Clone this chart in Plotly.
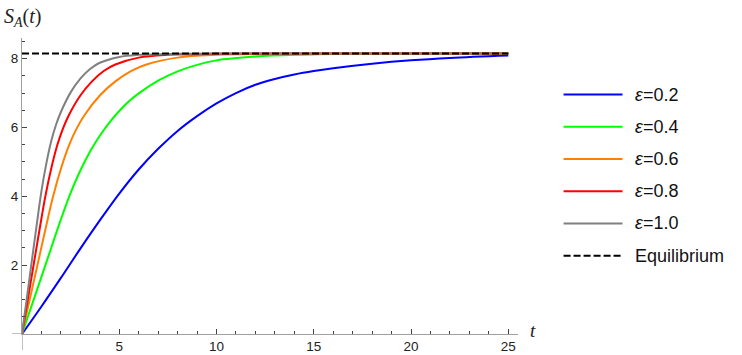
import plotly.graph_objects as go

# ---------------- data ----------------
t_blue = [0, 1, 2, 3, 4, 5, 6, 7, 8, 9, 10, 11, 12, 13, 14, 15, 16, 18, 20, 22, 25]
s_blue = [0, 0.80, 1.63, 2.48, 3.30, 4.08, 4.78, 5.38, 5.90, 6.33, 6.70, 7.00, 7.24, 7.41, 7.54, 7.64, 7.72, 7.85, 7.95, 8.02, 8.09]

t_green = [0, 0.5, 1, 1.5, 2, 2.5, 3, 3.5, 4, 4.5, 5, 5.5, 6, 7, 8, 9, 10, 12, 14, 17, 20, 25]
s_green = [0, 0.83, 1.66, 2.50, 3.33, 4.10, 4.75, 5.30, 5.76, 6.15, 6.48, 6.76, 6.99, 7.36, 7.63, 7.82, 7.95, 8.06, 8.11, 8.14, 8.15, 8.15]

t_orange = [0, 0.4, 0.8, 1.2, 1.6, 2, 2.4, 2.8, 3.2, 4, 4.8, 5.6, 6.4, 8, 10, 13, 16, 20, 25]
s_orange = [0, 1.01, 2.02, 3.03, 4.00, 4.80, 5.46, 5.96, 6.35, 6.93, 7.34, 7.64, 7.83, 8.03, 8.11, 8.14, 8.15, 8.15, 8.15]

t_red = [0, 0.3, 0.6, 0.9, 1.2, 1.5, 1.8, 2.1, 2.4, 3.0, 3.6, 4.2, 4.8, 6, 7.5, 10, 12.5, 15, 20, 25]
s_red = [0, 1.01, 2.02, 3.03, 4.00, 4.80, 5.46, 5.96, 6.35, 6.93, 7.34, 7.64, 7.83, 8.03, 8.11, 8.14, 8.15, 8.15, 8.15, 8.15]

t_gray = [0, 0.25, 0.5, 0.75, 1, 1.25, 1.5, 1.75, 2, 2.5, 3, 3.5, 4, 5, 6, 8, 10, 15, 20, 25]
s_gray = [0, 1.05, 2.10, 3.15, 4.15, 4.95, 5.60, 6.08, 6.45, 7.02, 7.42, 7.70, 7.88, 8.05, 8.11, 8.14, 8.15, 8.15, 8.15, 8.15]

t_eq = [0, 25]
s_eq = [8.15, 8.15]

labels = ["ε=0.2", "ε=0.4", "ε=0.6", "ε=0.8", "ε=1.0", "Equilibrium"]
x_ticks = [5, 10, 15, 20, 25]
y_ticks = [2, 4, 6, 8]

# ---------------- styling ----------------
colors = ["#0000ff", "#00ff00", "#ff8000", "#ff0000", "#808080", "#000000"]
W, H = 742, 355
x_range = [0, 25.5]
y_range = [0, 8.6]
L, R, T, B = 22, 223.6, 37.6, 20.7
pw = W - L - R
ph = H - T - B

series = [(t_blue, s_blue), (t_green, s_green), (t_orange, s_orange),
          (t_red, s_red), (t_gray, s_gray)]

fig = go.Figure()
for (tx, sy), c, name in zip(series, colors, labels):
    fig.add_trace(go.Scatter(x=tx, y=sy, mode="lines", name=name,
                             line=dict(color=c, width=2, shape="spline", smoothing=1.0),
                             cliponaxis=False, showlegend=False, hoverinfo="skip"))
fig.add_trace(go.Scatter(x=t_eq, y=s_eq, mode="lines", name=labels[-1],
                         line=dict(color=colors[-1], width=2, dash="7px,3px"),
                         cliponaxis=False, showlegend=False, hoverinfo="skip"))

axis_col = "#a0a0a0"
tick_col = "#444444"
font_ticks = dict(family="Liberation Sans, Arial, sans-serif", size=13.5, color="#222222")

fig.update_xaxes(range=x_range, showline=True, linecolor=axis_col, linewidth=1.3,
                 showgrid=False, zeroline=False, tickvals=x_ticks,
                 ticks="inside", ticklen=5, tickwidth=1, tickcolor=tick_col,
                 minor=dict(dtick=1, tick0=0, ticks="inside", ticklen=3, tickwidth=1, tickcolor=tick_col),
                 tickfont=font_ticks, automargin=False)
fig.update_yaxes(range=y_range, showline=True, linecolor=axis_col, linewidth=1.3,
                 showgrid=False, zeroline=False, tickvals=y_ticks,
                 ticks="inside", ticklen=5, tickwidth=1, tickcolor=tick_col,
                 minor=dict(dtick=0.5, tick0=0, ticks="inside", ticklen=3, tickwidth=1, tickcolor=tick_col),
                 tickfont=font_ticks, automargin=False)

shapes = []
# axis extensions past the origin
shapes.append(dict(type="line", xref="paper", yref="y", x0=-10 / pw, x1=0, y0=0, y1=0,
                   line=dict(color=axis_col, width=1.3)))
shapes.append(dict(type="line", xref="x", yref="paper", x0=0, x1=0, y0=0, y1=-16 / ph,
                   line=dict(color=axis_col, width=1.3)))

annotations = []
# manual legend
leg_y = [94.3, 126.6, 158.9, 191.2, 223.5, 255.8]
for i, (lab, c) in enumerate(zip(labels, colors)):
    py = leg_y[i]
    yp = (H - B - py) / ph
    x0p = (564 - L) / pw
    x1p = (623 - L) / pw
    ln = dict(color=c, width=2)
    if i == len(labels) - 1:
        ln["dash"] = "7px,3px"
    shapes.append(dict(type="line", xref="paper", yref="paper", x0=x0p, x1=x1p, y0=yp, y1=yp, line=ln))
    txt = lab.replace("ε", "<i>ε</i>")
    annotations.append(dict(xref="paper", yref="paper", x=(633 - L) / pw, y=yp, text=txt,
                            showarrow=False, xanchor="left", yanchor="middle",
                            font=dict(family="Liberation Sans, Arial, sans-serif", size=18, color="#111111")))

# axis labels
annotations.append(dict(xref="paper", yref="paper", x=(2 - L) / pw, y=(H - B - 17) / ph,
                        text="<i>S</i><sub><i>A</i></sub>(<i>t</i>)", showarrow=False,
                        xanchor="left", yanchor="middle",
                        font=dict(family="Liberation Serif, Times New Roman, serif", size=20, color="#222222")))
annotations.append(dict(xref="paper", yref="paper", x=(533 - L) / pw, y=(H - B - 331) / ph,
                        text="<i>t</i>", showarrow=False, xanchor="center", yanchor="middle",
                        font=dict(family="Liberation Serif, Times New Roman, serif", size=19, color="#222222")))

fig.update_layout(width=W, height=H, margin=dict(l=L, r=R, t=T, b=B, autoexpand=False),
                  plot_bgcolor="white", paper_bgcolor="white",
                  shapes=shapes, annotations=annotations, showlegend=False)

fig.write_html("out.html")
